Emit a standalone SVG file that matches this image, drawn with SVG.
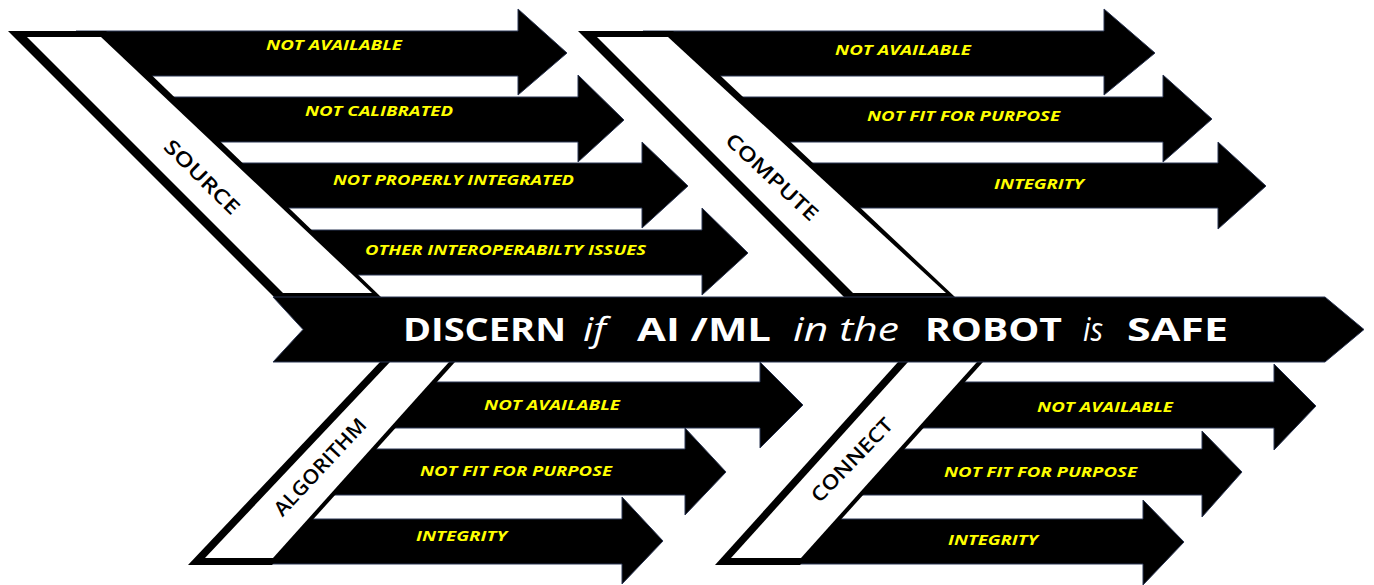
<svg xmlns="http://www.w3.org/2000/svg" width="1374" height="585" viewBox="0 0 1374 585">
<defs>
<style>
.arrow{fill:#000;stroke:#2b3654;stroke-width:1;stroke-linejoin:miter}
.bout{fill:#000}
.bin{fill:#fff}
.lbl{font-family:"Open Sans","Liberation Sans",sans-serif;font-weight:700;font-style:italic;font-size:15px;fill:#ffff00}
.blbl{font-family:"Open Sans","Liberation Sans",sans-serif;font-weight:600;font-size:20px;fill:#000}
.mb{font-family:"Open Sans","Liberation Sans",sans-serif;font-weight:700;font-size:32px;fill:#fff}
.mi{font-family:"Open Sans","Liberation Sans",sans-serif;font-weight:400;font-style:italic;font-size:32px;fill:#fff}
</style>
</defs>
<rect width="1374" height="585" fill="#fff"/>

<g id="source-not-available">
<polygon class="arrow" points="76,31 518,31 518,9 567,53 518,95 518,76 122,76"/>
<text class="lbl" x="266" y="50" textLength="136" lengthAdjust="spacingAndGlyphs">NOT AVAILABLE</text>
</g>
<g id="source-not-calibrated">
<polygon class="arrow" points="144,97 578,97 578,75 624,120 578,162 578,142 191,142"/>
<text class="lbl" x="305" y="116" textLength="148" lengthAdjust="spacingAndGlyphs">NOT CALIBRATED</text>
</g>
<g id="source-not-properly-integrated">
<polygon class="arrow" points="212,163 642,163 642,142 688,186 642,228 642,208 259,208"/>
<text class="lbl" x="333" y="185" textLength="241" lengthAdjust="spacingAndGlyphs">NOT PROPERLY INTEGRATED</text>
</g>
<g id="source-other-interoperability">
<polygon class="arrow" points="282,230 702,230 702,208 748,253 702,295 702,275 328,275"/>
<text class="lbl" x="365" y="255" textLength="281" lengthAdjust="spacingAndGlyphs">OTHER INTEROPERABILTY ISSUES</text>
</g>

<g id="compute-not-available">
<polygon class="arrow" points="643,31 1104,31 1104,9 1155,53 1104,95 1104,76 691,76"/>
<text class="lbl" x="835" y="55" textLength="136" lengthAdjust="spacingAndGlyphs">NOT AVAILABLE</text>
</g>
<g id="compute-not-fit">
<polygon class="arrow" points="713,97 1163,97 1163,75 1212,119 1163,162 1163,142 761,142"/>
<text class="lbl" x="867" y="121" textLength="193" lengthAdjust="spacingAndGlyphs">NOT FIT FOR PURPOSE</text>
</g>
<g id="compute-integrity">
<polygon class="arrow" points="783,163 1218,163 1218,142 1266,186 1218,229 1218,208 831,208"/>
<text class="lbl" x="994" y="189" textLength="90" lengthAdjust="spacingAndGlyphs">INTEGRITY</text>
</g>

<g id="algorithm-not-available">
<polygon class="arrow" points="412,382 760,382 760,362 803,405 760,448 760,428 371,428"/>
<text class="lbl" x="484" y="410" textLength="136" lengthAdjust="spacingAndGlyphs">NOT AVAILABLE</text>
</g>
<g id="algorithm-not-fit">
<polygon class="arrow" points="352,449 685,449 685,428 726,472 685,515 685,495 310,495"/>
<text class="lbl" x="420" y="476" textLength="192" lengthAdjust="spacingAndGlyphs">NOT FIT FOR PURPOSE</text>
</g>
<g id="algorithm-integrity">
<polygon class="arrow" points="289,519 622,519 622,497 663,541 622,584 622,564 248,564"/>
<text class="lbl" x="416" y="541" textLength="91" lengthAdjust="spacingAndGlyphs">INTEGRITY</text>
</g>

<g id="connect-not-available">
<polygon class="arrow" points="940,382 1274,382 1274,364 1316,406 1274,450 1274,428 899,428"/>
<text class="lbl" x="1037" y="412" textLength="136" lengthAdjust="spacingAndGlyphs">NOT AVAILABLE</text>
</g>
<g id="connect-not-fit">
<polygon class="arrow" points="880,449 1202,449 1202,431 1242,472 1202,517 1202,495 838,495"/>
<text class="lbl" x="944" y="477" textLength="193" lengthAdjust="spacingAndGlyphs">NOT FIT FOR PURPOSE</text>
</g>
<g id="connect-integrity">
<polygon class="arrow" points="817,519 1143,519 1143,500 1184,542 1143,585 1143,564 776,564"/>
<text class="lbl" x="948" y="545" textLength="90" lengthAdjust="spacingAndGlyphs">INTEGRITY</text>
</g>

<g id="source">
<polygon class="bout" points="8,31 106,31 381,297 274,297"/>
<polygon class="bin" points="27,37 101,37 372,293 283,293"/>
<text class="blbl" x="0" y="0" dy="0.35em" text-anchor="middle" transform="translate(202,177) rotate(44.5)" textLength="97" lengthAdjust="spacingAndGlyphs">SOURCE</text>
</g>
<g id="compute">
<polygon class="bout" points="578,31 673,31 955,297 844,297"/>
<polygon class="bin" points="597,37 668,37 946,293 853,293"/>
<text class="blbl" x="0" y="0" dy="0.35em" text-anchor="middle" transform="translate(772,177) rotate(43)" textLength="118" lengthAdjust="spacingAndGlyphs">COMPUTE</text>
</g>
<g id="algorithm">
<polygon class="bout" points="380,362 455,362 272,565 188,565"/>
<polygon class="bin" points="390,362 449,362 273,558 205,558"/>
<text class="blbl" x="0" y="0" dy="0.35em" text-anchor="middle" transform="translate(320,467) rotate(-47)" textLength="125" lengthAdjust="spacingAndGlyphs">ALGORITHM</text>
</g>
<g id="connect">
<polygon class="bout" points="898,362 983,362 800,565 715,565"/>
<polygon class="bin" points="908,362 977,362 801,558 731,558"/>
<text class="blbl" x="0" y="0" dy="0.35em" text-anchor="middle" transform="translate(852,460) rotate(-46)" textLength="108" lengthAdjust="spacingAndGlyphs">CONNECT</text>
</g>

<g id="main-spine">
<polygon class="arrow" points="273,297 1325,297 1364,329.5 1325,362 273,362 303,329.5"/>
<text class="mb" x="403" y="341" textLength="163" lengthAdjust="spacingAndGlyphs">DISCERN</text>
<text class="mi" x="583" y="341" textLength="23" lengthAdjust="spacingAndGlyphs">if</text>
<text class="mb" x="637" y="341" textLength="134" lengthAdjust="spacingAndGlyphs">AI /ML</text>
<text class="mi" x="793" y="341" textLength="106" lengthAdjust="spacingAndGlyphs">in the</text>
<text class="mb" x="925" y="341" textLength="137" lengthAdjust="spacingAndGlyphs">ROBOT</text>
<text class="mi" x="1083" y="341" textLength="20" lengthAdjust="spacingAndGlyphs">is</text>
<text class="mb" x="1127" y="341" textLength="101" lengthAdjust="spacingAndGlyphs">SAFE</text>
</g>

<g id="connectors"></g>
</svg>
